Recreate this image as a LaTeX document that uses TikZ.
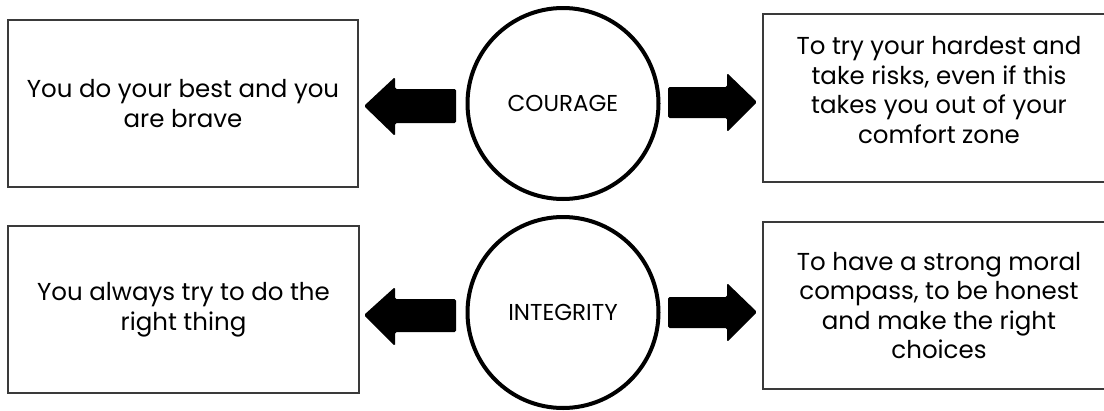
\documentclass[tikz,border=0pt]{standalone}
\usepackage{fontspec}
\setmainfont{Poppins}
\definecolor{boxgray}{HTML}{3A3A3A}
\begin{document}
\begin{tikzpicture}[x=1pt,y=-1pt]
\tikzset{
  txtbox/.style={rectangle, draw=boxgray, line width=1.1pt, inner sep=0pt,
    align=center, font=\fontsize{24.5}{29.5}\selectfont},
  plainbox/.style={rectangle, draw=boxgray, line width=1.1pt, inner sep=0pt},
  boxtext/.style={inner sep=0pt, align=center, font=\fontsize{24.5}{29.5}\selectfont},
  ring/.style={circle, draw=black, line width=4pt, inner sep=0pt,
    minimum size=191pt, font=\fontsize{23}{26}\selectfont},
  blockarrow/.style={fill=black, rounded corners=1.5pt},
}
\useasboundingbox (0,0) rectangle (1104,410);

% boxes
\node[txtbox, minimum width=350pt, minimum height=167pt] (b1) at (183,103.5)
  {You do your best and you\\are brave};
\node[plainbox, minimum width=352pt, minimum height=168pt] (b2) at (939,98) {};
\node[boxtext] (t2) at (939,90)
  {To try your hardest and\\take risks, even if this\\takes you out of your\\comfort zone};
\node[txtbox, minimum width=351pt, minimum height=167pt] (b3) at (183.5,309.5)
  {You always try to do the\\right thing};
\node[txtbox, minimum width=352pt, minimum height=167pt] (b4) at (939,305.5)
  {To have a strong moral\\compass, to be honest\\and make the right\\choices};

% circles
\node[ring] (c1) at (563,103.5) {COURAGE};
\node[ring] (c2) at (563,312.5) {INTEGRITY};

% block arrows
\fill[blockarrow] (456,89) -- (395,89) -- (395,77) -- (364,106) -- (395,136)
  -- (395,123) -- (456,123) -- cycle;
\fill[blockarrow] (668,87) -- (727,87) -- (727,73) -- (757,102) -- (727,132)
  -- (727,118) -- (668,118) -- cycle;
\fill[blockarrow] (456,299) -- (395,299) -- (395,287) -- (364,315) -- (395,346)
  -- (395,332) -- (456,332) -- cycle;
\fill[blockarrow] (668,297) -- (727,297) -- (727,283) -- (757,312) -- (727,342)
  -- (727,328) -- (668,328) -- cycle;
\end{tikzpicture}
\end{document}
